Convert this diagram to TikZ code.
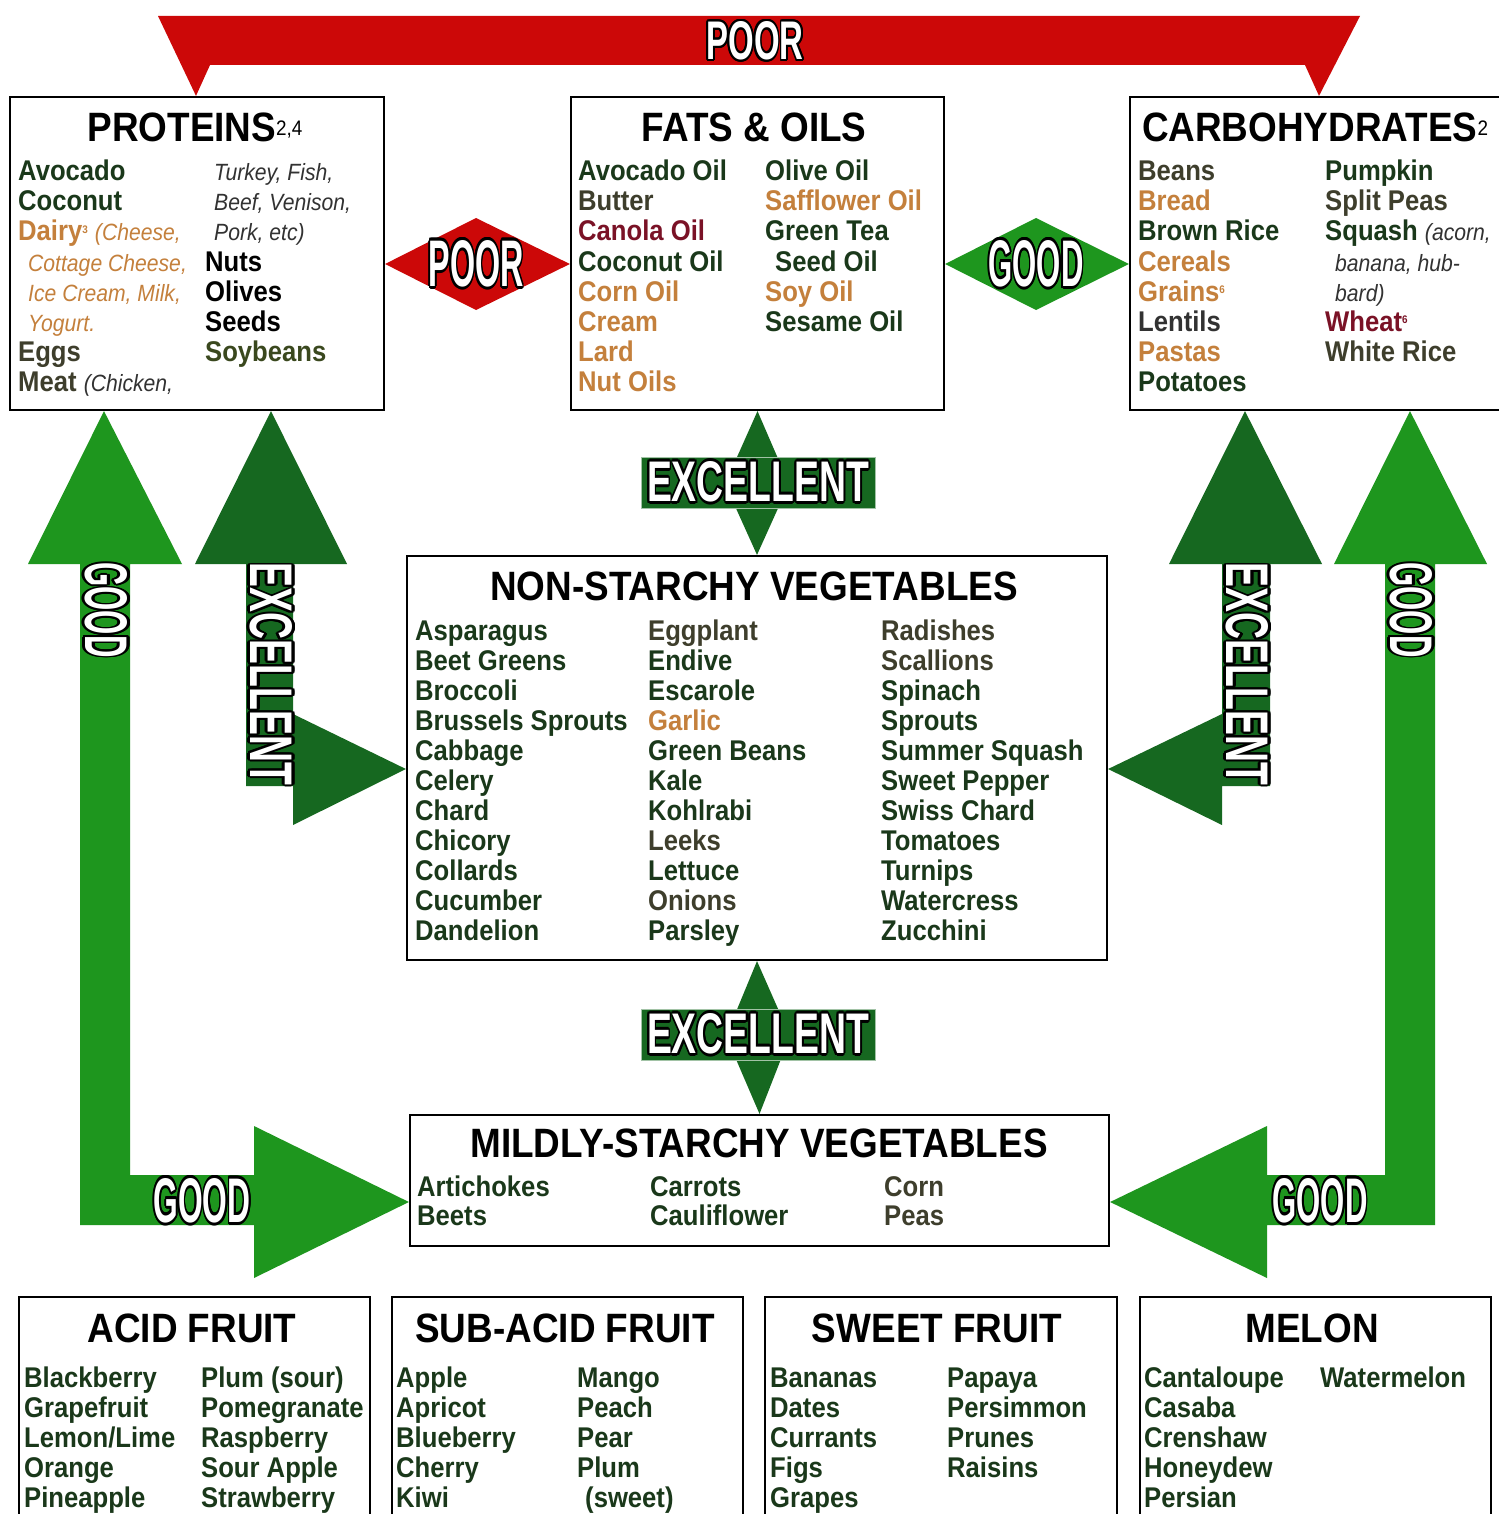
\documentclass[tikz,border=0pt]{standalone}
\usepackage{fontspec}
\setmainfont{Liberation Sans}[FakeStretch=0.9]
\usepackage{graphicx}
\usepackage{contour}
\contourlength{0.045em}
\usetikzlibrary{positioning}
\definecolor{cgreen}{RGB}{26,56,26}
\definecolor{colive}{RGB}{62,62,44}
\definecolor{ctan}{RGB}{196,128,60}
\definecolor{cred}{RGB}{122,18,38}
\definecolor{cgray}{RGB}{50,50,50}
\definecolor{csoy}{RGB}{58,72,30}
\definecolor{cgood}{RGB}{30,150,30}
\definecolor{cexc}{RGB}{22,104,32}
\definecolor{cpoor}{RGB}{204,8,8}
\newcommand{\arrlbl}[3]{\resizebox{#1}{#2}{\color{white}\contour{black}{\bfseries #3}}}
\newcommand{\supn}[1]{\raisebox{8pt}{\fontsize{11}{11}\selectfont #1}}
\newcommand{\itl}[1]{{\fontsize{23.5}{26}\selectfont\mdseries\itshape #1}}
\begin{document}
\begin{tikzpicture}[x=1pt,y=-1pt,
  box/.style={draw,line width=2.2pt,inner sep=0pt},
  ttl/.style={anchor=base,inner sep=0pt,font=\fontsize{41}{44}\selectfont\bfseries},
  itm/.style={anchor=base west,inner sep=0pt,font=\fontsize{28.5}{30}\selectfont\bfseries},
  ita/.style={anchor=base west,inner sep=0pt,text=cgray,font=\fontsize{23.5}{26}\selectfont\itshape},
  exclbl/.style={fill=cexc,draw=white!60!cexc,line width=1pt,inner sep=0pt,minimum width=234pt,minimum height=51pt}]
\useasboundingbox[fill=white] (0,0) rectangle (1498,1514);

\node[box,minimum width=374pt,minimum height=313pt] (prot) at (197,253.5) {};
\node[box,minimum width=373pt,minimum height=313pt] (fats) at (757.5,253.5) {};
\node[box,minimum width=375pt,minimum height=313pt] (carb) at (1317.5,253.5) {};
\node[box,minimum width=700pt,minimum height=404pt] (nonst) at (757,758) {};
\node[box,minimum width=699pt,minimum height=131pt] (mild) at (759.5,1180.5) {};
\node[box,minimum width=351pt,minimum height=240pt] (acid) at (194.5,1417) {};
\node[box,minimum width=351pt,minimum height=240pt] (subacid) at (567.5,1417) {};
\node[box,minimum width=352pt,minimum height=240pt] (sweet) at (941,1417) {};
\node[box,minimum width=351pt,minimum height=240pt] (melon) at (1315.5,1417) {};

% arrows
\fill[cpoor] (158,16) -- (1360,16) -- (1319,0 |- carb.north) -- (1305,65) -- (210,65) -- (196,0 |- prot.north) -- cycle;
\fill[cpoor] (prot.east |- 0,264) -- (476,218) -- (fats.west |- 0,264) -- (476,310) -- cycle;
\fill[cgood] (fats.east |- 0,264) -- (1036,218) -- (carb.west |- 0,264) -- (1036,310) -- cycle;
\fill[cexc] (fats.south) -- (789,484) -- (nonst.north) -- (725,484) -- cycle;
\fill[cexc] (nonst.south) -- (790,1036) -- (mild.north) -- (726,1036) -- cycle;
\fill[cgood] (104,0 |- prot.south) -- (182,564) -- (130,564) -- (130,1175) -- (254,1175) -- (254,1126) -- (mild.west |- 0,1202) -- (254,1278) -- (254,1225) -- (80,1225) -- (80,564) -- (28,564) -- cycle;
\fill[cexc] (271,0 |- prot.south) -- (347,564) -- (293,564) -- (293,714) -- (nonst.west |- 0,769) -- (293,825) -- (293,786) -- (246,786) -- (246,564) -- (195,564) -- cycle;
\fill[cexc] (1245,0 |- carb.south) -- (1322,564) -- (1270,564) -- (1270,786) -- (1222,786) -- (1222,825) -- (nonst.east |- 0,769) -- (1222,714) -- (1222,564) -- (1169,564) -- cycle;
\fill[cgood] (1410,0 |- carb.south) -- (1487,564) -- (1435,564) -- (1435,1225) -- (1267,1225) -- (1267,1278) -- (mild.east |- 0,1202) -- (1267,1126) -- (1267,1175) -- (1385,1175) -- (1385,564) -- (1334,564) -- cycle;

\node (poor-top) at (755,42) {\arrlbl{97pt}{38pt}{POOR}};
\node (poor-mid) at (476,265) {\arrlbl{95pt}{46pt}{POOR}};
\node (good-mid) at (1036,265) {\arrlbl{95pt}{46pt}{GOOD}};
\node[exclbl] (exc-top) at (758,483) {\arrlbl{222pt}{40pt}{EXCELLENT}};
\node[exclbl] (exc-bot) at (758,1035) {\arrlbl{222pt}{40pt}{EXCELLENT}};
\node[rotate=-90] (good-l) at (105,610) {\arrlbl{95pt}{42pt}{GOOD}};
\node[rotate=-90] (exc-l) at (270,674) {\arrlbl{222pt}{42pt}{EXCELLENT}};
\node[rotate=-90] (exc-r) at (1246,674) {\arrlbl{222pt}{42pt}{EXCELLENT}};
\node[rotate=-90] (good-r) at (1410,610) {\arrlbl{95pt}{42pt}{GOOD}};
\node (good-bl) at (202,1202) {\arrlbl{97pt}{44pt}{GOOD}};
\node (good-br) at (1320,1202) {\arrlbl{95pt}{44pt}{GOOD}};

% titles
\node[ttl] (prot-t) at (195,142) {PROTEINS\raisebox{6pt}{\fontsize{21}{21}\selectfont\mdseries 2,4}};
\node[ttl] (fats-t) at (754,142) {FATS \& OILS};
\node[ttl] (carb-t) at (1315,142) {CARBOHYDRATES\raisebox{6pt}{\fontsize{21}{21}\selectfont\mdseries 2}};
\node[ttl] (nonst-t) at (754,600) {NON-STARCHY VEGETABLES};
\node[ttl] (mild-t) at (759,1157) {MILDLY-STARCHY VEGETABLES};
\node[ttl] (acid-t) at (192,1342) {ACID FRUIT};
\node[ttl] (subacid-t) at (565,1342) {SUB-ACID FRUIT};
\node[ttl] (sweet-t) at (937,1342) {SWEET FRUIT};
\node[ttl] (melon-t) at (1312,1342) {MELON};

% proteins
\node[itm,text=cgreen] (pr-1) at (18,181) {Avocado};
\node[itm,text=cgreen] (pr-2) at (18,211) {Coconut};
\node[itm,text=ctan] (pr-3) at (18,241) {Dairy\supn{3} \itl{(Cheese,}};
\node[ita,text=ctan] (pr-4) at (28,271) {Cottage Cheese,};
\node[ita,text=ctan] (pr-5) at (28,301) {Ice Cream, Milk,};
\node[ita,text=ctan] (pr-6) at (28,331) {Yogurt.};
\node[itm,text=colive] (pr-7) at (18,361) {Eggs};
\node[itm,text=colive] (pr-8) at (18,391) {Meat \itl{\color{cgray}(Chicken,}};
\node[ita] (pr-9) at (214,181) {Turkey, Fish,};
\node[ita] (pr-10) at (214,211) {Beef, Venison,};
\node[ita] (pr-11) at (214,241) {Pork, etc)};
\node[itm,text=black] (pr-12) at (205,271) {Nuts};
\node[itm,text=black] (pr-13) at (205,301) {Olives};
\node[itm,text=black] (pr-14) at (205,331) {Seeds};
\node[itm,text=csoy] (pr-15) at (205,361) {Soybeans};

% fats and oils
\foreach \c/\t [count=\i] in {cgreen/Avocado Oil,colive/Butter,cred/Canola Oil,cgreen/Coconut Oil,ctan/Corn Oil,ctan/Cream,ctan/Lard,ctan/Nut Oils}
  \node[itm,text=\c] (fa-a\i) at (578,151+30*\i) {\t};
\foreach \c/\t [count=\i] in {cgreen/Olive Oil,ctan/Safflower Oil,cgreen/Green Tea,cgreen/\hspace*{10pt}Seed Oil,ctan/Soy Oil,cgreen/Sesame Oil}
  \node[itm,text=\c] (fa-b\i) at (765,151+30*\i) {\t};

% carbohydrates
\foreach \c/\t [count=\i] in {colive/Beans,ctan/Bread,cgreen/Brown Rice,ctan/Cereals,ctan/Grains\supn{6},cgray/Lentils,ctan/Pastas,cgreen/Potatoes}
  \node[itm,text=\c] (ca-a\i) at (1138,151+30*\i) {\t};
\node[itm,text=cgreen] (ca-b1) at (1325,181) {Pumpkin};
\node[itm,text=colive] (ca-b2) at (1325,211) {Split Peas};
\node[itm,text=cgreen] (ca-b3) at (1325,241) {Squash \itl{\color{cgray}(acorn,}};
\node[ita] (ca-b4) at (1335,271) {banana, hub-};
\node[ita] (ca-b5) at (1335,301) {bard)};
\node[itm,text=cred] (ca-b6) at (1325,331) {Wheat\supn{6}};
\node[itm,text=colive] (ca-b7) at (1325,361) {White Rice};

% non-starchy vegetables
\foreach \t [count=\i] in {Asparagus,Beet Greens,Broccoli,Brussels Sprouts,Cabbage,Celery,Chard,Chicory,Collards,Cucumber,Dandelion}
  \node[itm,text=cgreen] (ns-a\i) at (415,610+30*\i) {\t};
\foreach \c/\t [count=\i] in {colive/Eggplant,cgreen/Endive,cgreen/Escarole,ctan/Garlic,cgreen/Green Beans,cgreen/Kale,cgreen/Kohlrabi,colive/Leeks,cgreen/Lettuce,colive/Onions,cgreen/Parsley}
  \node[itm,text=\c] (ns-b\i) at (648,610+30*\i) {\t};
\foreach \c/\t [count=\i] in {colive/Radishes,colive/Scallions,cgreen/Spinach,cgreen/Sprouts,cgreen/Summer Squash,cgreen/Sweet Pepper,cgreen/Swiss Chard,cgreen/Tomatoes,cgreen/Turnips,cgreen/Watercress,cgreen/Zucchini}
  \node[itm,text=\c] (ns-c\i) at (881,610+30*\i) {\t};

% mildly-starchy vegetables
\node[itm,text=cgreen] (ms-1) at (417,1196) {Artichokes};
\node[itm,text=cgreen] (ms-2) at (417,1225) {Beets};
\node[itm,text=cgreen] (ms-3) at (650,1196) {Carrots};
\node[itm,text=cgreen] (ms-4) at (650,1225) {Cauliflower};
\node[itm,text=colive] (ms-5) at (884,1196) {Corn};
\node[itm,text=colive] (ms-6) at (884,1225) {Peas};

% fruit
\foreach \t [count=\i] in {Blackberry,Grapefruit,Lemon/Lime,Orange,Pineapple}
  \node[itm,text=cgreen] (ac-a\i) at (24,1357+30*\i) {\t};
\foreach \t [count=\i] in {Plum (sour),Pomegranate,Raspberry,Sour Apple,Strawberry}
  \node[itm,text=cgreen] (ac-b\i) at (201,1357+30*\i) {\t};
\foreach \t [count=\i] in {Apple,Apricot,Blueberry,Cherry,Kiwi}
  \node[itm,text=cgreen] (sa-a\i) at (396,1357+30*\i) {\t};
\foreach \t [count=\i] in {Mango,Peach,Pear,Plum}
  \node[itm,text=cgreen] (sa-b\i) at (577,1357+30*\i) {\t};
\node[itm,text=cgreen] (sa-b5) at (585,1507) {(sweet)};
\foreach \t [count=\i] in {Bananas,Dates,Currants,Figs,Grapes}
  \node[itm,text=cgreen] (sw-a\i) at (770,1357+30*\i) {\t};
\foreach \t [count=\i] in {Papaya,Persimmon,Prunes,Raisins}
  \node[itm,text=cgreen] (sw-b\i) at (947,1357+30*\i) {\t};
\foreach \t [count=\i] in {Cantaloupe,Casaba,Crenshaw,Honeydew,Persian}
  \node[itm,text=cgreen] (me-a\i) at (1144,1357+30*\i) {\t};
\node[itm,text=cgreen] (me-b1) at (1320,1387) {Watermelon};
\end{tikzpicture}
\end{document}
